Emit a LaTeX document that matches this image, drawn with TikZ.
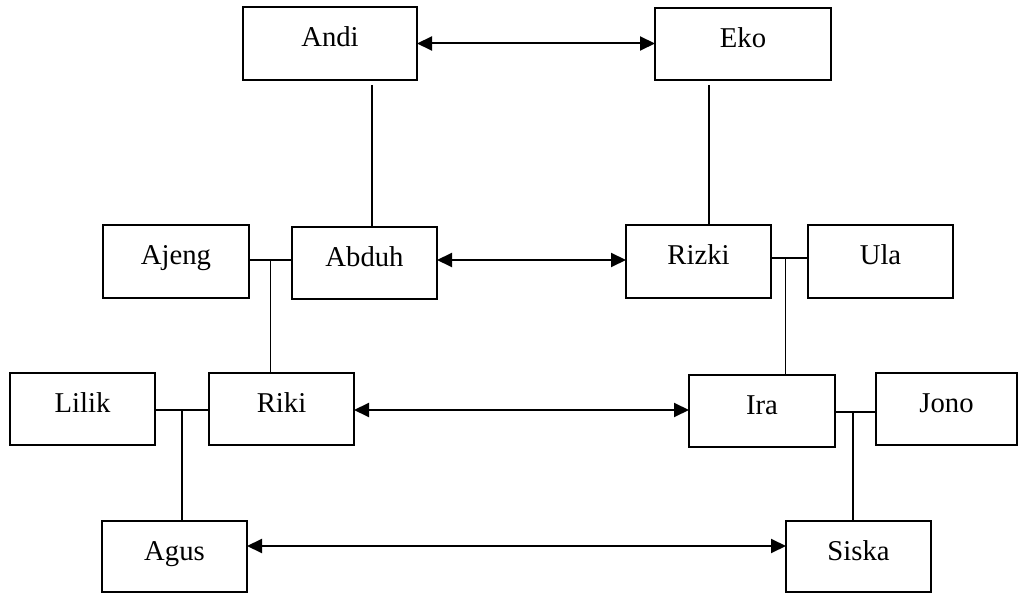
\documentclass[tikz,border=0pt]{standalone}
\usepackage{fontspec}
\setmainfont{Liberation Serif}
\usetikzlibrary{arrows.meta,calc}
\tikzset{
  box/.style={draw, line width=1.6pt, anchor=north west, inner sep=0pt, outer sep=0pt,
    text height=39.5pt, font=\fontsize{28.7}{34}\selectfont},
  arr/.style={line width=2pt, {Triangle[length=15pt,width=14pt]}-{Triangle[length=15pt,width=14pt]}},
  link/.style={line width=1.2pt}
}
\begin{document}
\begin{tikzpicture}[x=1pt,y=-1pt]
\useasboundingbox (0,0) rectangle (1018,593);
\node[box, minimum width=174pt, text depth=33.5pt] (Andi) at (243,7) {Andi};
\node[box, minimum width=176pt, text depth=32.5pt] (Eko) at (655,8) {Eko};
\node[box, minimum width=146pt, text depth=33.5pt] (Ajeng) at (103,225) {Ajeng};
\node[box, minimum width=145pt, text depth=32.5pt] (Abduh) at (292,227) {Abduh};
\node[box, minimum width=145pt, text depth=33.5pt] (Rizki) at (626,225) {Rizki};
\node[box, minimum width=145pt, text depth=33.5pt] (Ula) at (808,225) {Ula};
\node[box, minimum width=145pt, text depth=32.5pt] (Lilik) at (10,373) {Lilik};
\node[box, minimum width=145pt, text depth=32.5pt] (Riki) at (209,373) {Riki};
\node[box, minimum width=146pt, text depth=32.5pt] (Ira) at (689,375) {Ira};
\node[box, minimum width=141pt, text depth=32.5pt] (Jono) at (876,373) {Jono};
\node[box, minimum width=145pt, text depth=31.5pt] (Agus) at (102,521) {Agus};
\node[box, minimum width=145pt, text depth=31.5pt] (Siska) at (786,521) {Siska};
% arrows
\draw[arr] (Andi.east) -- (Andi.east -| Eko.west);
\draw[arr] ([yshift=3pt]Abduh.east) -- ([yshift=3pt]Abduh.east -| Rizki.west);
\draw[arr] ([yshift=-1pt]Riki.east) -- ([yshift=-1pt]Riki.east -| Ira.west);
\draw[arr] ([yshift=10.5pt]Agus.east) -- ([yshift=10.5pt]Agus.east -| Siska.west);
% vertical links from top
\coordinate (a1) at ([xshift=42pt,yshift=-5pt]Andi.south);
\draw[link] (a1) -- (a1 |- Abduh.north);
\coordinate (e1) at ([xshift=-34pt,yshift=-5pt]Eko.south);
\draw[link] (e1) -- (e1 |- Rizki.north);
% side links with junctions
\coordinate (j1) at ($(Ajeng.east)!0.5!(Ajeng.east -| Abduh.west)$);
\draw[link] ([yshift=1.5pt]Ajeng.east) -- ([yshift=1.5pt]Ajeng.east -| Abduh.west);
\draw[link] ([yshift=1.5pt]j1) -- (j1 |- Riki.north);
\coordinate (j2) at ($(Rizki.east)!0.4!(Rizki.east -| Ula.west)$);
\draw[link] ([yshift=3.5pt]Rizki.east) -- ([yshift=3.5pt]Rizki.east -| Ula.west);
\draw[link] ([yshift=3.5pt]j2) -- (j2 |- Ira.north);
\coordinate (j3) at ($(Lilik.east)!0.5!(Lilik.east -| Riki.west)$);
\draw[link] ([yshift=-1pt]Lilik.east) -- ([yshift=-1pt]Lilik.east -| Riki.west);
\draw[link] ([yshift=-1pt]j3) -- (j3 |- Agus.north);
\coordinate (j4) at ($(Ira.east)!0.44!(Ira.east -| Jono.west)$);
\draw[link] ([yshift=-1pt]Ira.east) -- ([yshift=-1pt]Ira.east -| Jono.west);
\draw[link] ([yshift=-1pt]j4) -- (j4 |- Siska.north);
\end{tikzpicture}
\end{document}
